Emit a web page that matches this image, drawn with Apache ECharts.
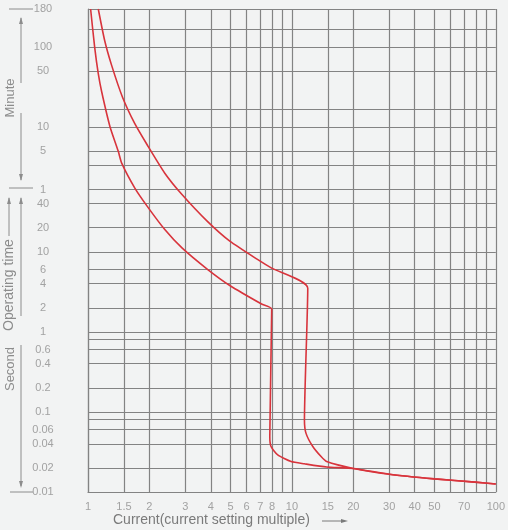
<!DOCTYPE html>
<html>
<head>
<meta charset="utf-8">
<script src="https://cdn.jsdelivr.net/npm/echarts@6/dist/echarts.min.js"></script>
<style>
  html, body { margin: 0; padding: 0; background: #f2f3f3; }
  #main { width: 508px; height: 530px; }
</style>
</head>
<body>
<div id="main"></div>
<script>
// 横轴：电流（整定电流倍数）
const xGridValues = [1, 1.5, 2, 3, 4, 5, 6, 7, 8, 9, 10, 15, 20, 30, 40, 50, 60, 70, 80, 90, 100]
const xLabelValues = [1, 1.5, 2, 3, 4, 5, 6, 7, 8, 10, 15, 20, 30, 40, 50, 70, 100]

// 纵轴：动作时间，统一换算成秒
const yGridSeconds = [0.01, 0.02, 0.04, 0.06, 0.08, 0.1, 0.2, 0.4, 0.6, 0.8, 1, 2, 4, 6, 10, 20, 40, 60,
  120, 180, 360, 600, 1800, 3600, 6000, 10800]
const yLabelSeconds = [0.01, 0.02, 0.04, 0.06, 0.1, 0.2, 0.4, 0.6, 1, 2, 4, 6, 10, 20, 40, 60,
  180, 360, 1800, 3600, 10800]
const yLabelTexts = ['0.01', '0.02', '0.04', '0.06', '0.1', '0.2', '0.4', '0.6', '1', '2', '4', '6', '10', '20', '40', '1',
  '5', '10', '50', '100', '180']

// 曲线 [倍数, 秒]
const lowerCurve = [
  [1.03, 10800], [1.078, 3600], [1.123, 1680], [1.167, 1000], [1.282, 366], [1.408, 180], [1.463, 128],
  [1.694, 63], [1.953, 37], [2.38, 19], [2.89, 11.2], [3.84, 6.1], [4.96, 3.8], [7.1, 2.23], [7.96, 1.93],
  [7.79, 0.049], [7.9, 0.037], [8.52, 0.029], [9.91, 0.024], [11.5, 0.0225], [14.8, 0.0205], [20, 0.0197],
  [30, 0.0167], [50, 0.0146], [79, 0.0133], [100, 0.0126]
]
const upperCurve = [
  [1.123, 10800], [1.207, 4365], [1.306, 2134], [1.475, 861], [1.694, 402], [1.953, 216], [2.38, 96],
  [2.89, 52], [3.84, 24.2], [4.96, 13.6], [6.96, 7.7], [7.92, 6.3], [11.96, 3.52],
  [11.52, 0.079], [11.73, 0.054], [12.66, 0.037], [13.9, 0.0277], [14.8, 0.024], [20, 0.0197],
  [30, 0.0167], [50, 0.0146], [79, 0.0133], [100, 0.0126]
]

const gridColor = '#838383'
const textColor = '#a2a2a2'
const sideColor = '#8c8c8c'
const font = 'Liberation Sans'

const near = (a, b) => Math.abs(Math.log10(a) - Math.log10(b)) < 0.004

// 左侧的箭头和文字
const arrowUp = (x, y) => ({ type: 'polygon', shape: { points: [[x, y], [x - 2, y + 7], [x + 2, y + 7]] }, style: { fill: sideColor } })
const arrowDown = (x, y) => ({ type: 'polygon', shape: { points: [[x, y], [x - 2, y - 7], [x + 2, y - 7]] }, style: { fill: sideColor } })
const vline = (x, y1, y2) => ({ type: 'line', shape: { x1: x, y1, x2: x, y2 }, style: { stroke: sideColor, lineWidth: 1 } })
const hline = (x1, x2, y) => ({ type: 'line', shape: { x1, y1: y, x2, y2: y }, style: { stroke: sideColor, lineWidth: 1 } })
const sideText = (text, x, y, size) => ({
  type: 'text', x, y, rotation: Math.PI / 2,
  style: { text, fill: sideColor, font: size + 'px ' + font, align: 'center', verticalAlign: 'middle' }
})

const chart = echarts.init(document.getElementById('main'))

const option = {
  backgroundColor: '#f2f3f3',
  animation: false,
  grid: { left: 88, right: 12, top: 9, bottom: 38 },
  xAxis: {
    type: 'log',
    logBase: 10,
    min: 1,
    max: 100,
    axisLine: { show: true, lineStyle: { color: gridColor, width: 1.2 } },
    axisTick: { show: false, customValues: xGridValues },
    splitLine: { show: true, lineStyle: { color: gridColor, width: 1.2 } },
    axisLabel: {
      customValues: xLabelValues,
      margin: 9,
      color: textColor,
      fontFamily: font,
      fontSize: 11,
      formatter: (v) => {
        const hit = xLabelValues.find(x => near(x, v))
        return hit === undefined ? '' : String(hit)
      }
    }
  },
  yAxis: {
    type: 'log',
    logBase: 10,
    min: 0.01,
    max: 10800,
    axisLine: { show: true, lineStyle: { color: gridColor, width: 1.2 } },
    axisTick: { show: false, customValues: yGridSeconds },
    splitLine: { show: true, lineStyle: { color: gridColor, width: 1.2 } },
    axisLabel: {
      customValues: yLabelSeconds,
      margin: 45,
      align: 'center',
      color: textColor,
      fontFamily: font,
      fontSize: 11,
      formatter: (v) => {
        const i = yLabelSeconds.findIndex(s => near(s, v))
        return i < 0 ? '' : yLabelTexts[i]
      }
    }
  },
  series: [
    {
      type: 'line',
      data: lowerCurve,
      showSymbol: false,
      smooth: 0.2,
      silent: true,
      lineStyle: { color: '#d8343c', width: 1.6 }
    },
    {
      type: 'line',
      data: upperCurve,
      showSymbol: false,
      smooth: 0.2,
      silent: true,
      lineStyle: { color: '#d8343c', width: 1.6 }
    }
  ],
  graphic: [
    hline(9, 33, 9),
    hline(9, 33, 188),
    hline(10, 33, 492),
    vline(21, 18, 83), arrowUp(21, 17),
    sideText('Minute', 10, 98, 13),
    vline(21, 113, 180), arrowDown(21, 181),
    vline(9, 198, 236), arrowUp(9, 197),
    sideText('Operating time', 9, 285, 14),
    vline(21, 198, 316), arrowUp(21, 197),
    sideText('Second', 10, 369, 13),
    vline(21, 345, 486), arrowDown(21, 488),
    {
      type: 'text', x: 113, y: 520,
      style: { text: 'Current(current setting multiple)', fill: '#7a7a7a', font: '14px ' + font, verticalAlign: 'middle' }
    },
    { type: 'line', shape: { x1: 322, y1: 521, x2: 342, y2: 521 }, style: { stroke: '#7a7a7a', lineWidth: 1 } },
    { type: 'polygon', shape: { points: [[348, 521], [341, 519], [341, 523]] }, style: { fill: '#7a7a7a' } }
  ]
}

option && chart.setOption(option)
</script>
</body>
</html>
